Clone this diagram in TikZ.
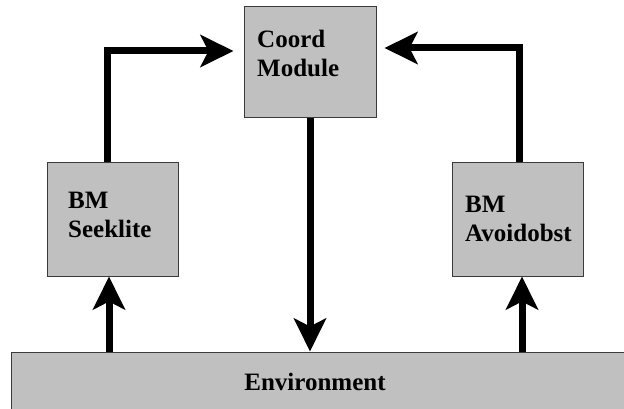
\documentclass[tikz,border=0pt]{standalone}
\usepackage{fontspec}
\setmainfont{Liberation Serif}
\usetikzlibrary{arrows.meta,calc,positioning}
\definecolor{boxfill}{HTML}{C0C0C0}
\definecolor{boxline}{HTML}{3A3A3A}

\tikzset{
  module/.style={draw=boxline, fill=boxfill, line width=1pt, inner sep=0pt},
  modtext/.style={anchor=base west, inner sep=0pt, align=left,
                  font={\fontsize{25}{29}\selectfont\bfseries}},
  flow/.style={line width=7pt, -{Stealth[length=33pt,width=32pt,inset=8pt]}}
}

\begin{document}
\begin{tikzpicture}[x=1pt, y=-1pt]
          \useasboundingbox (0,0) rectangle (624,409);
          \clip (0,0) rectangle (624,409);
          % boxes
          \node[module, minimum width=132pt, minimum height=111pt] (coord) at (310,62.5) {};
          \node[module, minimum width=131pt, minimum height=113pt] (seek) at (112.5,219.5) {};
          \node[module, minimum width=131pt, minimum height=113pt] (avoid) at (517.5,219.5) {};
          \node[module, minimum width=629pt, minimum height=68pt] (env) at (325.5,386) {};
          % labels (base = last line)
          \node[modtext] (coordtext) at (257,77) {Coord\\Module};
          \node[modtext] (seektext) at (68,237) {BM\\Seeklite};
          \node[modtext] (avoidtext) at (465,241) {BM\\Avoidobst};
          \node[modtext, anchor=base] (envtext) at (315,390) {Environment};
          % connectors
          \draw[flow, shorten >=10pt] ([xshift=-5pt]seek.north) |- ([yshift=11.5pt]coord.west);
          \draw[flow, shorten >=8pt] ([xshift=2pt]avoid.north) |- ([yshift=14.5pt]coord.east);
          \draw[flow] (coord.south) -- (coord.south |- env.north);
          \draw[flow] ([xshift=-3.5pt]seek.south |- env.north) -- ([xshift=-3.5pt]seek.south);
          \draw[flow] ([xshift=4.5pt]avoid.south |- env.north) -- ([xshift=4.5pt]avoid.south);
        \end{tikzpicture}
\end{document}
